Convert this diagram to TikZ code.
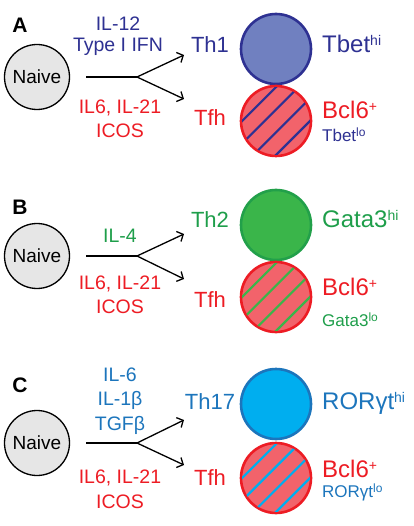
\documentclass[tikz,border=0pt]{standalone}
\usepackage{fontspec}
\setmainfont{Liberation Sans}
\usetikzlibrary{arrows.meta}
\definecolor{navy}{HTML}{2E3192}
\definecolor{thonefill}{HTML}{7080C0}
\definecolor{tfhred}{HTML}{ED1C24}
\definecolor{tfhfill}{HTML}{F2636B}
\definecolor{gtext}{HTML}{1E9E4A}
\definecolor{gfill}{HTML}{3AB54A}
\definecolor{gline}{HTML}{22A04A}
\definecolor{btext}{HTML}{1C75BC}
\definecolor{bfill}{HTML}{00AEEF}
\definecolor{naivegray}{HTML}{E6E6E6}
\newcommand\hisup[1]{\raisebox{7pt}{\fontsize{14}{14}\selectfont #1}}
\newcommand\losup[1]{\raisebox{5pt}{\fontsize{12}{12}\selectfont #1}}
\newcommand\tfhstripes[2]{%
  \begin{scope}
    \clip (#1.center) circle[radius=34pt];
    \foreach \o in {-24,-8,8,24}
      \draw[#2, line width=2.2pt, shift={(#1.center)}]
        (\o*0.7071-45, \o*0.7071+45) -- ++(90,-90);
  \end{scope}}
\begin{document}
\begin{tikzpicture}[x=1pt,y=-1pt,
  cyt/.style={font=\fontsize{19.5}{23}\selectfont, inner sep=0},
  thlab/.style={font=\fontsize{22}{24}\selectfont, inner sep=0},
  biglab/.style={font=\fontsize{24}{26}\selectfont, anchor=base west, inner sep=0},
  smalllab/.style={font=\fontsize{17}{19}\selectfont, anchor=base west, inner sep=0},
  naive/.style={circle, draw=black, line width=1.3pt, fill=naivegray,
    minimum size=65pt, inner sep=0, font=\fontsize{19}{21}\selectfont},
  cell/.style={circle, line width=2.6pt, minimum size=70pt, inner sep=0},
  panel/.style={font=\bfseries\fontsize{21}{23}\selectfont, inner sep=0},
  arr/.style={line width=1.3pt, -{Straight Barb[length=5pt,width=11pt]}},
  ln/.style={line width=1.3pt}]
\useasboundingbox (0,0) rectangle (413,526);

% ---------- Panel A ----------
\node[panel] (pA) at (20,25) {A};
\node[naive] (nA) at (37,77) {Naive};
\node[cyt, text=navy] (cA1) at (118,24) {IL-12};
\node[cyt, text=navy] (cA2) at (118,47) {Type I IFN};
\node[cyt, text=tfhred] (cA3) at (120,108) {IL6, IL-21};
\node[cyt, text=tfhred] (cA4) at (120,131) {ICOS};
\coordinate (sA) at (86,77);
\coordinate (bA) at (137,77);
\coordinate (tA1) at (184,55);
\coordinate (tA2) at (184,99);
\draw[ln] (sA) -- (bA);
\draw[arr] (bA) -- (tA1);
\draw[arr] (bA) -- (tA2);
\node[thlab, text=navy] (lA1) at (210,45) {Th1};
\node[thlab, text=tfhred] (lA2) at (210,118) {Tfh};
\node[cell, draw=navy, fill=thonefill] (th1) at (276,49) {};
\node[cell, draw=tfhred, fill=tfhfill] (tfhA) at (276,121) {};
\tfhstripes{tfhA}{navy}
\node[biglab, text=navy] (rA1) at (322,53) {Tbet\hisup{hi}};
\node[biglab, text=tfhred] (rA2) at (322,119) {Bcl6\hisup{+}};
\node[smalllab, text=navy] (rA3) at (322,142) {Tbet\losup{lo}};

% ---------- Panel B ----------
\node[panel] (pB) at (20,207) {B};
\node[naive] (nB) at (37,256) {Naive};
\node[cyt, text=gtext] (cB1) at (120,236) {IL-4};
\node[cyt, text=tfhred] (cB3) at (120,284) {IL6, IL-21};
\node[cyt, text=tfhred] (cB4) at (120,307) {ICOS};
\coordinate (sB) at (86,256);
\coordinate (bB) at (137,256);
\coordinate (tB1) at (184,234);
\coordinate (tB2) at (184,279);
\draw[ln] (sB) -- (bB);
\draw[arr] (bB) -- (tB1);
\draw[arr] (bB) -- (tB2);
\node[thlab, text=gtext] (lB1) at (210,220) {Th2};
\node[thlab, text=tfhred] (lB2) at (210,300) {Tfh};
\node[cell, draw=gline, fill=gfill] (th2) at (276,225) {};
\node[cell, draw=tfhred, fill=tfhfill] (tfhB) at (276,297) {};
\tfhstripes{tfhB}{gfill}
\node[biglab, text=gtext] (rB1) at (322,228) {Gata3\hisup{hi}};
\node[biglab, text=tfhred] (rB2) at (322,295) {Bcl6\hisup{+}};
\node[smalllab, text=gtext] (rB3) at (322,326) {Gata3\losup{lo}};

% ---------- Panel C ----------
\node[panel] (pC) at (20,385) {C};
\node[naive] (nC) at (37,443) {Naive};
\node[cyt, text=btext] (cC1) at (120,375) {IL-6};
\node[cyt, text=btext] (cC2) at (120,400) {IL-1β};
\node[cyt, text=btext] (cC3) at (120,425) {TGFβ};
\node[cyt, text=tfhred] (cC4) at (120,478) {IL6, IL-21};
\node[cyt, text=tfhred] (cC5) at (120,502) {ICOS};
\coordinate (sC) at (86,443);
\coordinate (bC) at (137,443);
\coordinate (tC1) at (184,420);
\coordinate (tC2) at (184,465);
\draw[ln] (sC) -- (bC);
\draw[arr] (bC) -- (tC1);
\draw[arr] (bC) -- (tC2);
\node[thlab, text=btext] (lC1) at (210,402) {Th17};
\node[thlab, text=tfhred] (lC2) at (210,478) {Tfh};
\node[cell, draw=btext, fill=bfill] (th17) at (276,404) {};
\node[cell, draw=tfhred, fill=tfhfill] (tfhC) at (276,478) {};
\tfhstripes{tfhC}{bfill}
\node[biglab, text=btext] (rC1) at (322,409) {RORγt\hisup{hi}};
\node[biglab, text=tfhred] (rC2) at (322,477) {Bcl6\hisup{+}};
\node[smalllab, text=btext] (rC3) at (322,497) {RORγt\losup{lo}};
\end{tikzpicture}
\end{document}
